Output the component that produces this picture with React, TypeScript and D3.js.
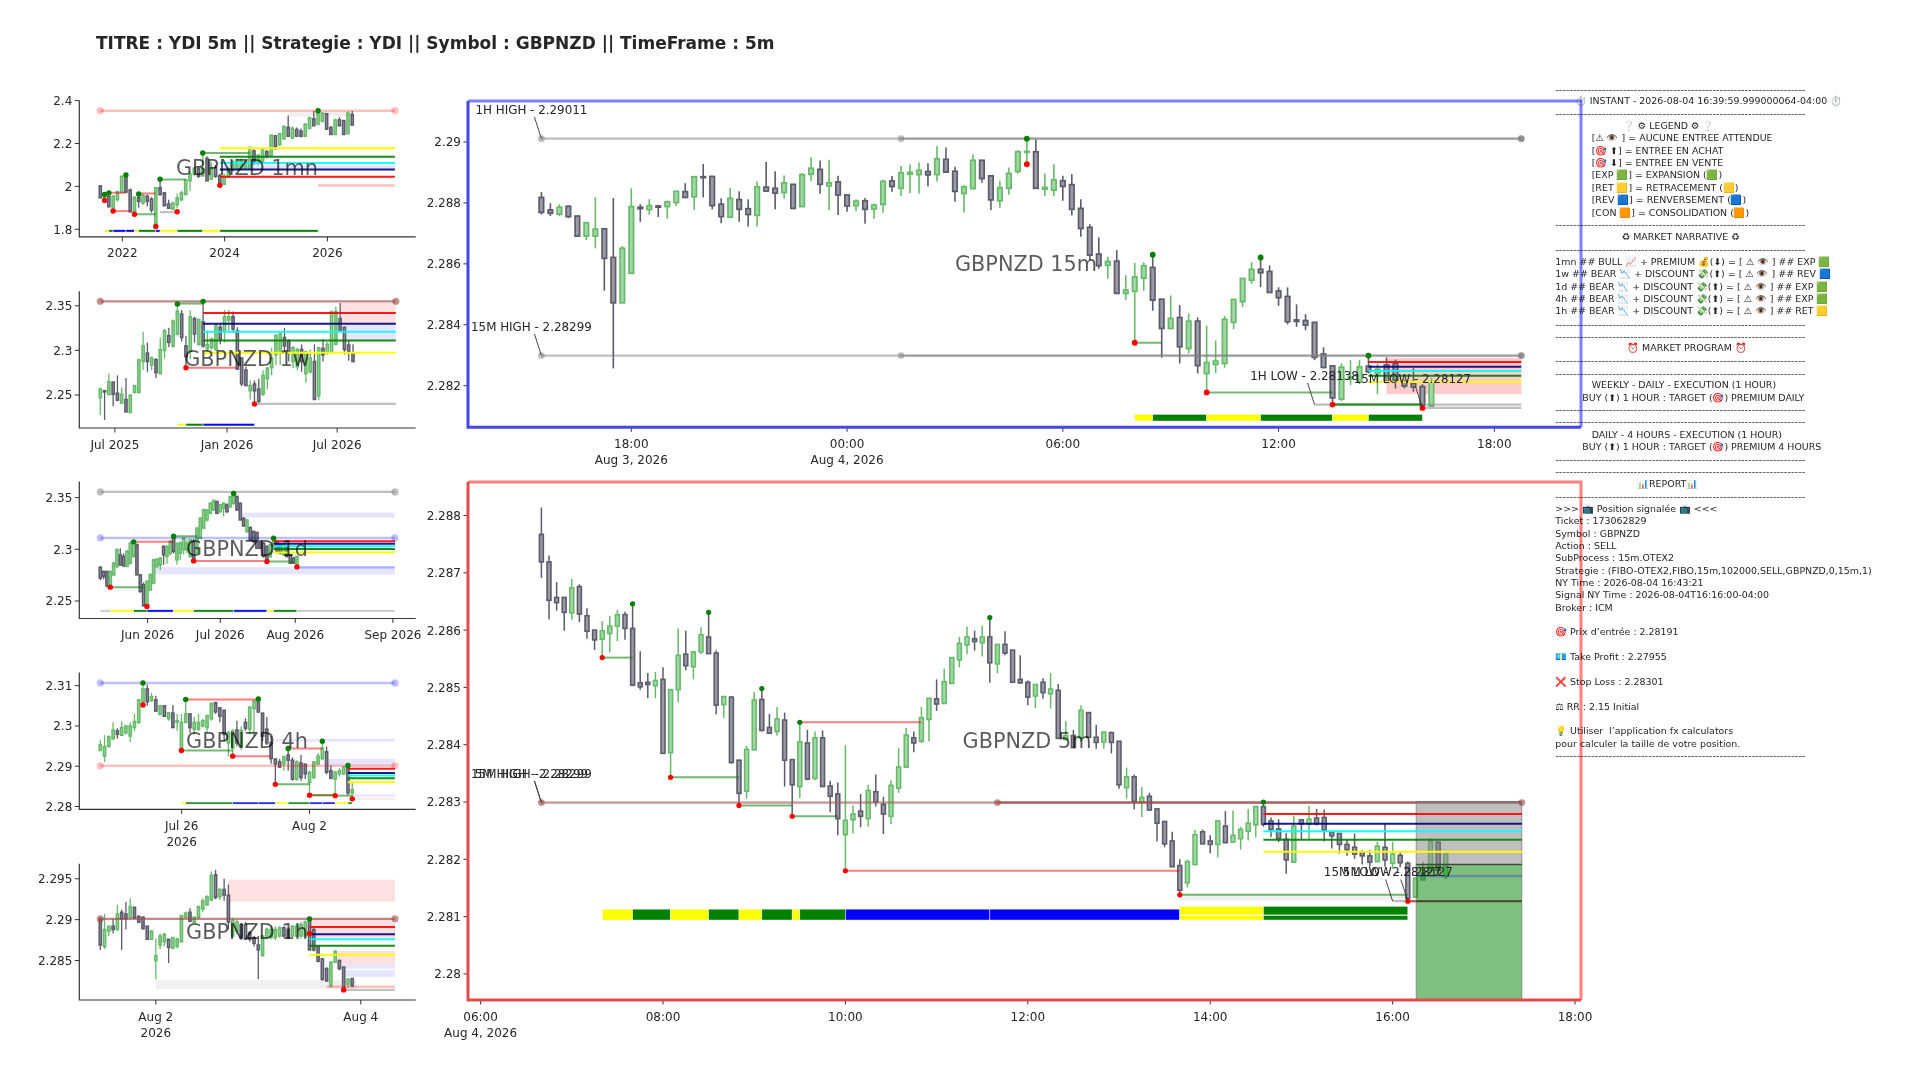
import React from "react";
import * as d3 from "d3";

type Row = number[];
const TITLE = "TITRE : YDI 5m || Strategie : YDI || Symbol : GBPNZD || TimeFrame : 5m";

// ---- candle values: [open, high, low, close]
const candles1mn: Row[] = [
[2.002,2.005,1.945,1.947],[1.947,1.97,1.94,1.962],[1.954,1.96,1.90,1.906],[1.90,1.96,1.888,1.954],[1.938,1.98,1.93,1.975],[1.973,2.05,1.97,2.047],[2.05,2.055,1.97,1.973],[1.983,1.99,1.878,1.882],[1.882,1.955,1.875,1.949],[1.949,1.965,1.90,1.93],
[1.922,1.965,1.915,1.957],[1.954,1.962,1.906,1.93],[1.941,1.95,1.877,1.89],[1.825,1.996,1.81,1.994],[1.994,2.034,1.957,1.962],[1.97,1.972,1.908,1.91],[1.918,1.938,1.896,1.898],[1.893,1.93,1.89,1.922],[1.914,1.967,1.898,1.946],[1.938,1.98,1.93,1.97],
[1.962,2.035,1.96,2.03],[2.026,2.07,1.978,2.058],[2.058,2.09,2.05,2.085],[2.082,2.09,2.04,2.047],[2.05,2.156,2.045,2.082],[2.13,2.14,2.024,2.026],[2.034,2.11,2.03,2.082],[2.087,2.10,2.04,2.047],[2.05,2.06,2.005,2.013],[2.01,2.06,2.008,2.047],
[2.042,2.09,2.04,2.082],[2.074,2.12,2.07,2.117],[2.082,2.13,2.08,2.117],[2.082,2.13,2.078,2.117],[2.085,2.12,2.08,2.117],[2.082,2.188,2.08,2.178],[2.165,2.175,2.10,2.114],[2.106,2.15,2.10,2.146],[2.114,2.18,2.11,2.175],[2.162,2.17,2.13,2.141],
[2.143,2.24,2.14,2.239],[2.236,2.24,2.17,2.186],[2.194,2.25,2.19,2.246],[2.222,2.285,2.22,2.279],[2.275,2.33,2.23,2.234],[2.226,2.28,2.22,2.271],[2.265,2.275,2.23,2.234],[2.258,2.27,2.228,2.234],[2.234,2.295,2.23,2.29],[2.271,2.325,2.265,2.32],
[2.315,2.352,2.28,2.283],[2.29,2.353,2.285,2.342],[2.303,2.345,2.30,2.342],[2.339,2.342,2.262,2.267],[2.275,2.28,2.24,2.242],[2.242,2.315,2.24,2.31],[2.31,2.323,2.28,2.283],[2.307,2.31,2.24,2.242],[2.246,2.35,2.243,2.342],[2.335,2.352,2.285,2.286],
];
const candles1w: Row[] = [
[2.247,2.2585,2.2277,2.2566],[2.2547,2.2558,2.2219,2.2535],[2.2505,2.274,2.2497,2.265],[2.2645,2.2645,2.2373,2.2508],[2.252,2.272,2.243,2.2443],[2.241,2.2586,2.2405,2.2508],[2.245,2.269,2.231,2.231],[2.2304,2.25,2.2296,2.25],[2.2528,2.261,2.252,2.2605],[2.2528,2.2895,2.2528,2.2895],
[2.2875,2.321,2.278,2.305],[2.297,2.3087,2.276,2.2875],[2.2836,2.2933,2.278,2.2914],[2.2895,2.2914,2.269,2.2752],[2.274,2.3145,2.273,2.301],[2.30,2.324,2.291,2.3222],[2.3165,2.3253,2.3037,2.309],[2.305,2.3346,2.303,2.333],[2.3184,2.352,2.3165,2.344],[2.3408,2.3454,2.31,2.3145],
[2.305,2.3165,2.2805,2.293],[2.299,2.3447,2.29,2.3377],[2.3357,2.3377,2.3087,2.3184],[2.3068,2.3357,2.305,2.3346],[2.332,2.355,2.303,2.305],[2.302,2.3222,2.299,2.3068],[2.303,2.3145,2.301,2.3126],[2.301,2.33,2.2999,2.328],[2.326,2.33,2.3068,2.3126],[2.322,2.3454,2.3087,2.3377],
[2.334,2.3454,2.322,2.3377],[2.3377,2.3435,2.32,2.324],[2.322,2.326,2.279,2.279],[2.2914,2.2914,2.26,2.2624],[2.278,2.282,2.26,2.2605],[2.2547,2.2663,2.245,2.2605],[2.2624,2.2663,2.24,2.2547],[2.2566,2.2682,2.241,2.243],[2.2508,2.2778,2.249,2.272],[2.2682,2.2817,2.2566,2.28],
[2.2806,2.303,2.272,2.2914],[2.295,2.3184,2.2836,2.3165],[2.297,2.32,2.2836,2.3184],[2.3145,2.3253,2.299,2.305],[2.3106,2.3126,2.2875,2.299],[2.2875,2.305,2.28,2.303],[2.2817,2.303,2.2778,2.301],[2.301,2.3068,2.276,2.2875],[2.274,2.2999,2.2636,2.2983],[2.276,2.301,2.274,2.2914],
[2.2875,2.3068,2.2443,2.245],[2.249,2.303,2.2443,2.303],[2.3022,2.3126,2.2875,2.295],[2.297,2.309,2.295,2.3068],[2.297,2.3435,2.297,2.3435],[2.3068,2.349,2.3068,2.3435],[2.3357,2.3532,2.3215,2.3222],[2.326,2.326,2.2952,2.301],[2.306,2.3106,2.2883,2.299],[2.297,2.3068,2.2867,2.2875],
];
const candles1d: Row[] = [
[2.2827,2.2834,2.27,2.2721],[2.2785,2.2795,2.271,2.2737],[2.2785,2.2795,2.263,2.2647],[2.264,2.2795,2.263,2.2785],[2.2753,2.288,2.274,2.2866],[2.2834,2.301,2.282,2.2995],[2.2946,2.3011,2.284,2.285],[2.293,2.296,2.283,2.284],[2.2834,2.2995,2.283,2.2979],[2.2866,2.3075,2.285,2.3059],
[2.293,2.3091,2.292,2.3075],[2.3043,2.3059,2.275,2.2753],[2.2753,2.276,2.258,2.2592],[2.2657,2.268,2.2447,2.2454],[2.2463,2.27,2.2447,2.2689],[2.2608,2.277,2.26,2.2753],[2.2673,2.291,2.266,2.2898],[2.2834,2.291,2.282,2.2904],[2.285,2.2925,2.28,2.2914],[2.3027,2.304,2.285,2.2946],
[2.293,2.304,2.286,2.3027],[2.2962,2.309,2.294,2.3075],[2.3115,2.3126,2.296,2.2979],[2.2898,2.306,2.285,2.3059],[2.2962,2.308,2.29,2.3059],[2.2995,2.311,2.295,2.3107],[2.2995,2.309,2.296,2.3059],[2.293,2.31,2.292,2.3091],[2.3075,2.31,2.2888,2.2914],[2.2962,2.3215,2.2955,2.3204],
[2.3107,2.331,2.31,2.33],[2.3204,2.3395,2.32,2.3381],[2.3284,2.339,2.327,2.3381],[2.3349,2.3455,2.334,2.3445],[2.3381,2.348,2.337,2.3473],[2.3462,2.347,2.334,2.3349],[2.3365,2.344,2.335,2.3429],[2.3397,2.3455,2.332,2.3445],[2.3429,2.3445,2.335,2.3365],[2.3413,2.3515,2.34,2.351],
[2.3445,2.3542,2.343,2.3535],[2.351,2.352,2.337,2.3381],[2.3445,2.345,2.328,2.3284],[2.33,2.331,2.322,2.3226],[2.3172,2.329,2.316,2.3284],[2.321,2.322,2.308,2.3091],[2.3172,2.318,2.306,2.3075],[2.3162,2.317,2.30,2.3011],[2.3075,2.309,2.30,2.3011],[2.3059,2.307,2.292,2.293],
[2.3027,2.304,2.2882,2.2895],[2.293,2.305,2.292,2.3043],[2.3027,2.3107,2.302,2.3091],[2.3075,2.309,2.296,2.2979],[2.3043,2.305,2.295,2.2962],[2.2946,2.305,2.294,2.3043],[2.3027,2.304,2.292,2.293],[2.2946,2.2955,2.286,2.2866],[2.2914,2.293,2.286,2.2866],[2.2834,2.294,2.283,2.293],
];
const candles4h: Row[] = [
[2.2939,2.2965,2.2939,2.2953],[2.2925,2.2977,2.291,2.2949],[2.2949,2.2977,2.2947,2.2973],[2.2968,2.3009,2.2966,2.299],[2.2988,2.2994,2.2968,2.2979],[2.2977,2.3011,2.2975,2.2996],[2.2983,2.3001,2.2979,2.30],[2.2975,2.3009,2.296,2.30],[2.2996,2.303,2.2988,2.3011],[2.3009,2.3067,2.3005,2.3065],
[2.306,2.3107,2.3052,2.3092],[2.3092,2.3103,2.305,2.306],[2.3063,2.3082,2.306,2.3073],[2.3065,2.3075,2.3035,2.3037],[2.3029,2.3052,2.3026,2.305],[2.305,2.3052,2.3022,2.3024],[2.3018,2.3033,2.3013,2.3033],[2.3032,2.3052,2.2996,2.2996],[2.3009,2.303,2.2988,2.3013],[2.2945,2.303,2.2939,2.3009],
[2.3009,2.3066,2.3007,2.303],[2.303,2.303,2.2983,2.2996],[2.2992,2.3022,2.2979,2.3009],[2.2992,2.303,2.2988,2.3009],[2.30,2.3018,2.2996,2.3013],[2.2996,2.3026,2.2983,2.3026],[2.3018,2.3058,2.3013,2.3056],[2.3058,2.306,2.303,2.3035],[2.3045,2.3047,2.3009,2.3024],[2.3039,2.3039,2.2962,2.2979],
[2.2958,2.2988,2.2925,2.2983],[2.2945,2.2992,2.2925,2.2988],[2.299,2.3013,2.2949,2.2958],[2.2949,2.2999,2.294,2.2989],[2.3009,2.3019,2.2988,2.2994],[2.2992,2.3048,2.2979,2.3047],[2.3043,2.3064,2.2975,2.3062],[2.3062,2.3067,2.3032,2.3035],[2.3032,2.3032,2.2962,2.2975],[2.2992,2.3022,2.2953,2.2958],
[2.2958,2.2975,2.2906,2.2919],[2.2918,2.2918,2.2855,2.2906],[2.2911,2.2918,2.2896,2.2898],[2.2906,2.2925,2.2889,2.2924],[2.2928,2.2944,2.2889,2.2915],[2.2915,2.2922,2.2864,2.2868],[2.2868,2.2915,2.2864,2.2911],[2.2908,2.2928,2.2864,2.2872],[2.2905,2.2906,2.2868,2.2881],[2.286,2.2889,2.2828,2.2885],
[2.2872,2.2911,2.2868,2.2911],[2.2906,2.2932,2.2902,2.2925],[2.2919,2.2962,2.2915,2.2945],[2.2936,2.2949,2.288,2.2885],[2.2889,2.2902,2.2868,2.287],[2.2868,2.2889,2.2828,2.2885],[2.2881,2.2896,2.2874,2.2889],[2.2881,2.29,2.2879,2.2898],[2.2902,2.2902,2.2828,2.2834],[2.2834,2.286,2.2819,2.2842],
];
const candles1h: Row[] = [
[2.2901,2.2903,2.2863,2.2869],[2.2867,2.2907,2.2864,2.2888],[2.2886,2.2893,2.288,2.2892],[2.2892,2.2901,2.2883,2.2888],[2.2888,2.2918,2.2886,2.2907],[2.2909,2.2912,2.2863,2.2901],[2.2907,2.2922,2.2888,2.2901],[2.2903,2.2926,2.2902,2.2916],[2.2915,2.2916,2.2901,2.2902],[2.2904,2.2905,2.2896,2.2897],
[2.2903,2.2904,2.2888,2.2889],[2.2892,2.2892,2.2876,2.2876],[2.2876,2.2887,2.2875,2.2886],[2.285,2.2877,2.2827,2.2856],[2.2869,2.2883,2.2864,2.288],[2.2873,2.2884,2.2867,2.2882],[2.2876,2.2876,2.2847,2.2866],[2.2865,2.2878,2.2864,2.2878],[2.2867,2.2878,2.2865,2.2876],[2.2873,2.2905,2.2872,2.2905],
[2.2903,2.291,2.2902,2.2908],[2.2909,2.2914,2.2897,2.2898],[2.2897,2.2904,2.2896,2.2903],[2.2903,2.2917,2.2901,2.2916],[2.2913,2.2926,2.2909,2.2923],[2.2918,2.293,2.2917,2.2928],[2.2924,2.2959,2.2923,2.2954],[2.2955,2.2961,2.2925,2.2927],[2.2928,2.2938,2.2924,2.2937],[2.2937,2.295,2.2923,2.293],
[2.293,2.2943,2.2888,2.2897],[2.288,2.2902,2.2878,2.2899],[2.2886,2.29,2.2882,2.2897],[2.2894,2.2895,2.2875,2.2878],[2.2894,2.2897,2.2875,2.2876],[2.2884,2.2886,2.2873,2.2876],[2.2878,2.288,2.2867,2.2871],[2.2869,2.288,2.2827,2.2863],[2.2856,2.288,2.2855,2.288],[2.2878,2.289,2.2876,2.2888],
[2.2878,2.2892,2.2876,2.2888],[2.2878,2.2892,2.2875,2.2888],[2.288,2.2892,2.2878,2.289],[2.289,2.2892,2.2878,2.288],[2.2888,2.289,2.2876,2.2878],[2.288,2.2893,2.2878,2.2892],[2.288,2.2895,2.2878,2.2892],[2.288,2.2897,2.2877,2.2894],[2.288,2.2899,2.2878,2.2897],[2.2901,2.2901,2.2862,2.2863],
[2.2888,2.289,2.2861,2.2863],[2.2867,2.2868,2.2848,2.2849],[2.2852,2.2853,2.2825,2.2827],[2.284,2.2842,2.2824,2.2825],[2.2819,2.2849,2.2817,2.2848],[2.2848,2.2863,2.2847,2.2861],[2.285,2.2851,2.2838,2.284],[2.2842,2.2842,2.2812,2.2814],[2.2821,2.2829,2.2817,2.2827],[2.2828,2.2828,2.2818,2.2819],
];
const candles15m: Row[] = [
[2.28818,2.28836,2.28762,2.28769],[2.28777,2.28799,2.28757,2.28766],[2.28763,2.28796,2.28757,2.28786],[2.28789,2.28791,2.2875,2.28755],[2.28757,2.28757,2.28689,2.28691],[2.28691,2.28735,2.28678,2.28735],[2.28691,2.28819,2.28651,2.28714],[2.28715,2.28715,2.28512,2.28618],[2.28621,2.28816,2.28257,2.28472],[2.28472,2.28658,2.28472,2.28651],
[2.28569,2.28848,2.28569,2.28788],[2.28786,2.28796,2.28738,2.28781],[2.28778,2.28812,2.28761,2.28791],[2.2879,2.28794,2.28754,2.28786],[2.28788,2.28807,2.28748,2.28804],[2.28801,2.28838,2.2879,2.28838],[2.28837,2.28865,2.28816,2.28818],[2.2882,2.28886,2.28777,2.28886],[2.28886,2.28928,2.28818,2.28883],[2.28887,2.28887,2.28779,2.28791],
[2.28796,2.28815,2.28733,2.28755],[2.28753,2.28849,2.28753,2.28815],[2.28811,2.28838,2.28738,2.28779],[2.28781,2.28812,2.28723,2.28762],[2.28759,2.2887,2.28723,2.28853],[2.28852,2.28934,2.28836,2.28839],[2.28848,2.28904,2.28779,2.28832],[2.28834,2.2889,2.28814,2.28866],[2.28861,2.28861,2.28779,2.28782],[2.28788,2.28898,2.28786,2.28893],
[2.28894,2.2895,2.28872,2.28914],[2.2891,2.28939,2.2883,2.28861],[2.28856,2.28942,2.28776,2.28866],[2.28869,2.28889,2.2876,2.28826],[2.28826,2.28826,2.28771,2.2879],[2.28791,2.28812,2.28773,2.28806],[2.28807,2.28816,2.28732,2.28779],[2.2878,2.28798,2.28748,2.28793],[2.28795,2.28876,2.28768,2.28871],[2.28872,2.28888,2.28837,2.28854],
[2.28848,2.28921,2.28823,2.28899],[2.28894,2.28926,2.28832,2.289],[2.28893,2.28933,2.28831,2.28907],[2.28903,2.2893,2.28855,2.28892],[2.28893,2.28987,2.2887,2.28945],[2.28943,2.28982,2.28899,2.28901],[2.28904,2.28919,2.28804,2.28838],[2.28831,2.28858,2.28768,2.28853],[2.28847,2.2896,2.28845,2.2894],[2.2894,2.2894,2.28866,2.2888],
[2.28889,2.28889,2.28777,2.2881],[2.28807,2.28872,2.28784,2.2885],[2.28848,2.28916,2.28827,2.28897],[2.28903,2.28974,2.28896,2.28968],[2.28966,2.29007,2.28927,2.28969],[2.28968,2.29009,2.28848,2.28848],[2.28845,2.28897,2.28823,2.28851],[2.28842,2.28927,2.28823,2.28876],[2.28873,2.28889,2.28807,2.28854],[2.2886,2.28894,2.28759,2.28779],
[2.28782,2.28812,2.28689,2.28716],[2.2872,2.2873,2.28612,2.28629],[2.28632,2.28687,2.28584,2.28594],[2.28595,2.28623,2.28551,2.28608],[2.28609,2.28645,2.28503,2.28503],[2.28503,2.28563,2.28481,2.28514],[2.2851,2.28603,2.28342,2.28557],[2.28553,2.28605,2.28512,2.28594],[2.28588,2.2863,2.28446,2.28481],[2.28484,2.28484,2.28292,2.28388],
[2.28388,2.28496,2.28388,2.28421],[2.28424,2.28465,2.28273,2.28328],[2.28322,2.28437,2.28306,2.28412],[2.28412,2.28424,2.2824,2.28266],[2.2824,2.28397,2.2818,2.28276],[2.2827,2.28348,2.28242,2.28281],[2.28273,2.28429,2.28259,2.28418],[2.28408,2.28483,2.28386,2.28483],[2.28476,2.28552,2.28458,2.28552],[2.28546,2.28606,2.28534,2.28582],
[2.28582,2.28621,2.28524,2.28571],[2.28575,2.28595,2.28506,2.28506],[2.28511,2.28523,2.28462,2.28489],[2.28493,2.28523,2.28401,2.2841],[2.28416,2.28467,2.28393,2.28411],[2.28414,2.28435,2.28382,2.28399],[2.28408,2.28408,2.28284,2.28293],[2.28304,2.28326,2.28257,2.2826],[2.28265,2.28265,2.28138,2.2816],[2.28156,2.28273,2.2815,2.28261],
[2.28222,2.28284,2.28202,2.28228],[2.28213,2.28285,2.28205,2.28262],[2.28264,2.28298,2.2824,2.28246],[2.2824,2.28273,2.28172,2.28254],[2.28268,2.28293,2.28208,2.28213],[2.28273,2.28286,2.28191,2.28218],[2.28213,2.2822,2.28191,2.28199],[2.28207,2.28257,2.2818,2.28196],[2.28197,2.28205,2.28127,2.28136],[2.28133,2.28226,2.2813,2.28212],
];
const candles5m: Row[] = [
[2.28767,2.28814,2.28691,2.28719],[2.28719,2.2873,2.28619,2.28652],[2.28657,2.28684,2.28634,2.28648],[2.28657,2.28657,2.28599,2.28631],[2.2863,2.28689,2.28618,2.28674],[2.28676,2.2868,2.28614,2.28628],[2.28625,2.28638,2.28585,2.28598],[2.286,2.286,2.28565,2.28583],[2.28584,2.28616,2.28552,2.28599],[2.28594,2.28625,2.28561,2.28607],
[2.28607,2.28635,2.28581,2.28627],[2.28627,2.28632,2.28583,2.28603],[2.28603,2.28646,2.28502,2.28504],[2.28508,2.28563,2.28496,2.28501],[2.28509,2.28525,2.28481,2.28505],[2.28503,2.28527,2.28481,2.28512],[2.28514,2.28535,2.28385,2.28385],[2.28386,2.28496,2.28343,2.28496],[2.28496,2.28603,2.28474,2.28556],[2.28558,2.28599,2.2853,2.28538],
[2.28536,2.28562,2.28514,2.28562],[2.28562,2.28605,2.28558,2.28592],[2.28588,2.28631,2.28559,2.28559],[2.2856,2.28565,2.28453,2.28469],[2.2847,2.28484,2.28447,2.28484],[2.28483,2.28485,2.28367,2.28369],[2.28373,2.28373,2.28294,2.28315],[2.28319,2.28398,2.28306,2.28392],[2.28391,2.28492,2.28391,2.28478],[2.28479,2.28498,2.28423,2.28425],
[2.2843,2.28454,2.2842,2.2842],[2.28423,2.28466,2.28416,2.28445],[2.28443,2.28456,2.28327,2.28373],[2.28374,2.28374,2.28275,2.2833],[2.28327,2.28439,2.28307,2.28405],[2.28403,2.28426,2.28338,2.2834],[2.28341,2.28423,2.28338,2.28412],[2.28412,2.28425,2.28326,2.28327],[2.28328,2.28337,2.28282,2.2831],[2.28314,2.28334,2.28242,2.28271],
[2.28243,2.28399,2.2818,2.28268],[2.28269,2.28294,2.28245,2.28279],[2.28284,2.28314,2.28256,2.28275],[2.28271,2.2833,2.28257,2.2832],[2.28318,2.28348,2.28292,2.283],[2.28296,2.28309,2.28244,2.28279],[2.28275,2.28338,2.28261,2.28329],[2.28324,2.28394,2.28316,2.28361],[2.28361,2.28429,2.28359,2.28417],[2.28412,2.28423,2.28387,2.28403],
[2.28406,2.28466,2.28403,2.28447],[2.28444,2.28481,2.28406,2.28481],[2.2848,2.28514,2.28459,2.28471],[2.28472,2.28533,2.28472,2.2851],[2.28507,2.28552,2.28507,2.28552],[2.28548,2.28588,2.28535,2.28577],[2.28574,2.28606,2.28558,2.28588],[2.28585,2.28599,2.28564,2.2858],[2.28578,2.28608,2.28554,2.28588],[2.28588,2.28622,2.28508,2.28543],
[2.28541,2.28575,2.28525,2.28575],[2.28575,2.28598,2.28556,2.2856],[2.28565,2.28565,2.28509,2.28509],[2.28514,2.28556,2.28506,2.28508],[2.28509,2.28512,2.28469,2.28483],[2.28485,2.28506,2.28464,2.28505],[2.28509,2.28516,2.2848,2.28491],[2.28489,2.28525,2.28463,2.28497],[2.28495,2.28506,2.28411,2.28411],[2.28409,2.28441,2.28409,2.28416],
[2.28416,2.28426,2.28395,2.28395],[2.28412,2.28469,2.28405,2.2846],[2.28456,2.28457,2.28413,2.28413],[2.28413,2.28435,2.28393,2.28404],[2.28405,2.28422,2.28393,2.28422],[2.28421,2.28423,2.28385,2.28404],[2.28406,2.28406,2.28323,2.2833],[2.28325,2.2836,2.28306,2.28344],[2.28344,2.28348,2.28287,2.28301],[2.283,2.28326,2.28274,2.28308],
[2.2831,2.28316,2.28286,2.28286],[2.28288,2.28288,2.28231,2.28263],[2.28266,2.28266,2.28221,2.28227],[2.28232,2.28248,2.28187,2.28187],[2.28189,2.282,2.28138,2.28146],[2.28159,2.28199,2.28151,2.28196],[2.28191,2.28251,2.28189,2.28243],[2.28248,2.28252,2.28227,2.28227],[2.28232,2.28242,2.2821,2.28226],[2.28226,2.28267,2.28203,2.28267],
[2.28258,2.28284,2.28229,2.28229],[2.2823,2.28285,2.2823,2.28242],[2.28236,2.28257,2.28217,2.28252],[2.28249,2.28288,2.28233,2.28263],[2.2826,2.28292,2.28238,2.28292],[2.28292,2.283,2.28257,2.28261],[2.28267,2.28273,2.28239,2.28252],[2.28253,2.2827,2.2823,2.28236],[2.28235,2.28246,2.28175,2.28199],[2.28195,2.28276,2.28195,2.28258],
[2.28269,2.2827,2.28235,2.28262],[2.28261,2.28293,2.28235,2.2827],[2.28272,2.28288,2.28259,2.28262],[2.28273,2.28287,2.28231,2.28251],[2.28247,2.28247,2.28219,2.28241],[2.28245,2.28245,2.2821,2.28226],[2.28226,2.28234,2.28206,2.28217],[2.28221,2.28245,2.28201,2.28209],[2.28212,2.28216,2.28191,2.28206],[2.28206,2.28216,2.28187,2.28195],
[2.28196,2.28231,2.28196,2.28223],[2.28221,2.28263,2.28187,2.28199],[2.28193,2.28231,2.28184,2.28209],[2.28207,2.28212,2.28186,2.28194],[2.28193,2.28196,2.2813,2.28132],[2.28134,2.28167,2.28134,2.28167],[2.28164,2.28196,2.28164,2.28176],[2.28181,2.28237,2.28175,2.28231],[2.2823,2.2823,2.28175,2.28181],[2.2817,2.28209,2.28165,2.28209],
];

// ---- levels: [fromBar, toBar, price, kind]
type Lv = [number, number, number, string];
const levels1mn: Lv[] = [[0,69,2.353,"tPink"],[28,69,2.178,"yellow"],[51,69,2.178,"yellow"],[28,69,2.138,"green"],[28,69,2.109,"cyan"],[28,69,2.079,"navy"],[28,69,2.045,"red"],[51,69,2.004,"tPink"],[2,6,1.97,"pRed"],[3,7,1.885,"pRed"],[9,13,1.967,"pRed"],[8,13,1.87,"pGreen"],[14,20,2.032,"pGreen"],[24,35,2.156,"pGreen"],[14,18,1.88,"tGrey"]];
const levels1w: Lv[] = [[0,69,2.355,"dRose"],[24,69,2.342,"red"],[24,69,2.33,"navy"],[24,69,2.321,"cyan"],[24,69,2.311,"green"],[24,69,2.2975,"yellow"],[36,69,2.24,"tGrey"],[18,24,2.3525,"pGreen"],[20,32,2.2805,"pRed"]];
const levels1d: Lv[] = [[0,88.4,2.3555,"tGrey"],[0,88.4,2.311,"tBlue"],[52,88.4,2.3078,"red"],[52,88.4,2.3053,"navy"],[52,88.4,2.303,"cyan"],[52,88.4,2.3004,"green"],[52,88.4,2.2969,"yellow"],[59,88.4,2.2827,"tBlue"],[3,13,2.2634,"pGreen"],[10,22,2.3072,"pRed"],[22,29,2.3126,"pGreen"],[28,50,2.2888,"pRed"],[50,58,2.2882,"pGreen"]];
const levels4h: Lv[] = [[0,69,2.3107,"tBlue"],[0,69,2.2901,"tPink"],[58,69,2.2894,"red"],[58,69,2.2883,"navy"],[58,69,2.2877,"cyan"],[58,69,2.287,"green"],[58,69,2.286,"yellow"],[20,37,2.3066,"pRed"],[19,31,2.2939,"pGreen"],[31,40,2.2925,"pRed"],[41,49,2.2855,"pGreen"],[44,52,2.2944,"pRed"],[49,55,2.2828,"pRed"],[49,55,2.2828,"pGreen"],[55,59,2.2827,"pGreen"]];
const levels1h: Lv[] = [[0,69,2.2901,"dRose"],[49,69,2.2891,"red"],[49,69,2.2882,"navy"],[49,69,2.2876,"cyan"],[49,69,2.2868,"green"],[49,69,2.2857,"yellow"],[53,69,2.2818,"tPink"],[57,69,2.2814,"tGrey"]];
const levels15m: Lv[] = [[0,109,2.29011,"tGrey"],[40,109,2.29011,"tGrey"],[0,109,2.28299,"tGrey"],[40,109,2.28299,"tGrey"],[86,109,2.28138,"tGrey"],[98,109,2.28127,"tGrey"],[92,109,2.28278,"red"],[92,109,2.28262,"navy"],[92,109,2.28248,"cyan"],[92,109,2.28233,"green"],[92,109,2.28212,"yellow"],[66,69,2.28341,"pGreen"],[74,88,2.28178,"pGreen"],[88,98,2.28138,"pGreen"],[88,98,2.28138,"pGreen"]];
const levels5m: Lv[] = [[0,129,2.28299,"tPink"],[0,129,2.28299,"tGrey"],[60,129,2.28299,"dRose"],[8,12,2.28552,"pGreen"],[17,26,2.28343,"pGreen"],[26,33,2.28294,"pGreen"],[33,39,2.28275,"pGreen"],[40,84,2.2818,"pRed"],[34,50,2.28439,"pRed"],[84,114,2.28138,"pGreen"],[112,129,2.28127,"tGrey"],[114,129,2.28127,"tGrey"],[114,129,2.28127,"pRed"]];
const overlay5m: Lv[] = [[95,129,2.28279,"red"],[95,129,2.28262,"navy"],[95,129,2.28249,"cyan"],[95,129,2.28234,"green"],[95,129,2.28213,"yellow"],[115.1,129,2.28191,"entry"],[115.1,129,2.28171,"tBlue"],[115.1,129,2.28127,"entry"]];

// ---- zones: [fromBar, toBar, priceA, priceB, kind]
type Zn = [number, number, number, number, string];
const zones1mn: Zn[] = [[29,69,2.10,2.079,"zBlue"],[44,59,2.347,2.326,"zGrey"]];
const zones1w: Zn[] = [[56,69,2.3532,2.3307,"zPink"],[57,69,2.3307,2.311,"zBlue"]];
const zones1d: Zn[] = [[42,88.4,2.3355,2.3307,"zBlue"],[16.4,88.4,2.2827,2.2757,"zBlue"]];
const zones4h: Zn[] = [[41,69,2.2968,2.2961,"zBlue"],[53,69,2.2918,2.2902,"zBlue"],[59,69,2.283,2.2824,"zBlue"],[59,69,2.2821,2.2817,"zPink"]];
const zones1h: Zn[] = [[30,69,2.2949,2.2922,"zPink"],[49,69,2.2901,2.2876,"zPink"],[55.5,69,2.2862,2.2845,"zPink"],[55.5,69,2.2845,2.284,"zBlue"],[57.5,69,2.2838,2.283,"zBlue"],[13,60,2.2826,2.2815,"zGrey"]];
const zones15m: Zn[] = [[94,109,2.28292,2.28172,"zPink2"]];
const zones5m: Zn[] = [[84,114,2.28139,2.28128,"zGrey"]];
const position5m: Zn[] = [[115.1,129,2.28301,2.28191,"zStop"],[115.1,129,2.28191,2.27955,"zTake"]];

// ---- swing points: [bar, price]
const highs1mn = [[1,1.962],[2,1.97],[6,2.053],[9,1.965],[14,2.033],[24,2.156],[51,2.353]];
const lows1mn = [[1,1.934],[3,1.885],[8,1.87],[13,1.813],[18,1.882],[28,2.005]];
const highs1w = [[18,2.352],[24,2.355]];
const lows1w = [[20,2.2805],[36,2.24]];
const highs1d = [[10,2.3072],[22,2.3126],[40,2.3539],[52,2.3107]];
const lows1d = [[3,2.2634],[14,2.2447],[28,2.2888],[50,2.2882],[59,2.283]];
const highs4h = [[10,2.3107],[20,2.3066],[37,2.3067],[44,2.2944],[52,2.2962],[58,2.2902]];
const lows4h = [[10,2.3052],[19,2.2939],[31,2.2925],[41,2.2855],[49,2.2828],[55,2.2827],[59,2.2819]];
const highs1h = [[49,2.2901]];
const lows1h = [[49,2.2883],[57,2.2814]];
const highs15m = [[54,2.29011],[68,2.2863],[80,2.28621],[92,2.28299]];
const lows15m = [[54,2.28927],[66,2.28341],[74,2.28178],[88,2.28138],[98,2.28127]];
const highs5m = [[12,2.28646],[22,2.28631],[29,2.28498],[34,2.28439],[59,2.28622],[95,2.283]];
const lows5m = [[8,2.28552],[17,2.28343],[26,2.28294],[33,2.28275],[40,2.2818],[84,2.28138],[114,2.28127]];

// ---- end markers: [bar, price, kind]
type Mk = [number, number, string];
const ends1mn: Mk[] = [[0,2.353,"tPink"],[69,2.353,"tPink"]];
const ends1w: Mk[] = [[0,2.355,"dRose"],[69,2.355,"dRose"]];
const ends1d: Mk[] = [[0,2.3555,"tGrey"],[88.4,2.3555,"tGrey"],[0,2.311,"tBlue"],[88.4,2.311,"tBlue"]];
const ends4h: Mk[] = [[0,2.3107,"tBlue"],[69,2.3107,"tBlue"],[0,2.2901,"tPink"],[69,2.2901,"tPink"]];
const ends1h: Mk[] = [[0,2.2901,"dRose"],[69,2.2901,"dRose"]];
const ends15m: Mk[] = [[0,2.29011,"tGrey"],[40,2.29011,"tGrey"],[109,2.29011,"dGrey"],[0,2.28299,"tGrey"],[40,2.28299,"tGrey"],[109,2.28299,"dGrey"]];
const ends5m: Mk[] = [[0,2.28299,"dRose"],[60,2.28299,"dRose"],[129,2.28299,"dRose"]];

// ---- phase strip: [fromBar, toBar, kind]
type Seg = [number, number, string];
const strip1mn: Seg[] = [[1,2,"Y"],[2,3,"G"],[3,6,"B"],[6,8,"B"],[8,9,"Y"],[9,13,"G"],[13,14,"B"],[14,18,"Y"],[18,24,"G"],[24,28,"Y"],[28,51,"G"]];
const strip1w: Seg[] = [[18,20,"Y"],[20,24,"G"],[24,36,"B"]];
const strip1d: Seg[] = [[0,3,"S"],[3,10,"Y"],[10,14,"G"],[14,22,"B"],[22,28,"Y"],[28,40,"G"],[40,50,"B"],[50,52,"Y"],[52,59,"G"],[59,88.4,"S"]];
const strip4h: Seg[] = [[19,20,"Y"],[20,31,"G"],[31,37,"B"],[37,41,"B"],[41,44,"Y"],[44,49,"G"],[49,52,"B"],[52,55,"B"],[55,58,"Y"],[58,59,"G"]];
const strip15m: Seg[] = [[66,68,"Y"],[68,74,"G"],[74,80,"Y"],[80,88,"G"],[88,92,"Y"],[92,98,"G"]];
const strip5m: Seg[] = [[8,12,"Y"],[12,17,"G"],[17,22,"Y"],[22,26,"G"],[26,29,"Y"],[29,33,"G"],[33,34,"Y"],[34,40,"G"],[40,59,"B"],[59,84,"B"]];
const strip5mUpper: Seg[] = [[84,95,"Y"],[95,114,"G"]];
const strip5mLower: Seg[] = [[84,95,"Y"],[95,114,"G"]];

// ---- ticks
type XT = [number, string, string?];
const yt1mn = [1.8,2,2.2,2.4]; const xt1mn: XT[] = [[5.16,"2022"],[29.1,"2024"],[53.2,"2026"]];
const yt1w = [2.25,2.3,2.35]; const xt1w: XT[] = [[3.4,"Jul 2025"],[29.6,"Jan 2026"],[55.3,"Jul 2026"]];
const yt1d = [2.25,2.3,2.35]; const xt1d: XT[] = [[14.2,"Jun 2026"],[36,"Jul 2026"],[58.5,"Aug 2026"],[87.8,"Sep 2026"]];
const yt4h = [2.28,2.29,2.3,2.31]; const xt4h: XT[] = [[19.06,"Jul 26","2026"],[49,"Aug 2"]];
const yt1h = [2.285,2.29,2.295]; const xt1h: XT[] = [[13,"Aug 2","2026"],[61,"Aug 4"]];
const yt15m = [2.282,2.284,2.286,2.288,2.29]; const xt15m: XT[] = [[10,"18:00","Aug 3, 2026"],[34,"00:00","Aug 4, 2026"],[58,"06:00"],[82,"12:00"],[106,"18:00"]];
const yt5m = [2.28,2.281,2.282,2.283,2.284,2.285,2.286,2.287,2.288]; const xt5m: XT[] = [[-8,"06:00","Aug 4, 2026"],[16,"08:00"],[40,"10:00"],[64,"12:00"],[88,"14:00"],[112,"16:00"],[136,"18:00"]];

// ---- annotations: [bar, price, text]
type An = [number, number, string];
const notes15m: An[] = [[0,2.29011,"1H HIGH - 2.29011"],[0,2.28299,"15M HIGH - 2.28299"],[86,2.28138,"1H LOW - 2.28138"],[98,2.28127,"15M LOW - 2.28127"]];
const notes5m: An[] = [[0,2.28299,"15M HIGH - 2.28299"],[0,2.28299,"5M HIGH - 2.28299"],[112,2.28127,"15M LOW - 2.28127"],[114,2.28127,"5M LOW - 2.28127"]];

// ---- report text: [text, left, centre-y]
const DASH = "-";
const report: [string, number, number][] = [
[DASH,1555.3,89.3],["⏱ INSTANT - 2026-08-04 16:39:59.999000064-04:00 ⏱",1575,100.7],[DASH,1555.3,114],
["❔ ⚙ LEGEND ⚙ ❔",1623,125.7],["[⚠ 👁 ] = AUCUNE ENTREE ATTENDUE",1591.7,137.7],["[🎯 ⬆] = ENTREE EN ACHAT",1591.7,150.7],["[🎯 ⬇] = ENTREE EN VENTE",1591.7,162.7],["[EXP 🟩] = EXPANSION (🟩)",1591.7,174.7],["[RET 🟨] = RETRACEMENT (🟨)",1591.7,187.7],["[REV 🟦] = RENVERSEMENT (🟦)",1591.7,199.7],["[CON 🟧] = CONSOLIDATION (🟧)",1591.7,212.7],
[DASH,1555.3,225],["♻ MARKET NARRATIVE ♻",1621.7,236.7],[DASH,1555.3,250],
["1mn ## BULL 📈 + PREMIUM 💰(⬇) = [ ⚠ 👁 ] ## EXP 🟩",1555.3,261.7],["1w ## BEAR 📉 + DISCOUNT 💸(⬆) = [ ⚠ 👁 ] ## REV 🟦",1555.3,273.7],["1d ## BEAR 📉 + DISCOUNT 💸(⬆) = [ ⚠ 👁 ] ## EXP 🟩",1555.3,286.7],["4h ## BEAR 📉 + DISCOUNT 💸(⬆) = [ ⚠ 👁 ] ## EXP 🟩",1555.3,298.7],["1h ## BEAR 📉 + DISCOUNT 💸(⬆) = [ ⚠ 👁 ] ## RET 🟨",1555.3,310.7],
[DASH,1555.3,324.3],[DASH,1555.3,336.3],["⏰ MARKET PROGRAM ⏰",1627.3,347.7],[DASH,1555.3,361],[DASH,1555.3,373.3],
["WEEKLY - DAILY - EXECUTION (1 HOUR)",1591.7,384.7],["BUY (⬆) 1 HOUR : TARGET (🎯) PREMIUM DAILY",1582.3,397.7],[DASH,1555.3,410],[DASH,1555.3,422],
["DAILY - 4 HOURS - EXECUTION (1 HOUR)",1591.7,434.3],["BUY (⬆) 1 HOUR : TARGET (🎯) PREMIUM 4 HOURS",1582.3,446.7],[DASH,1555.3,460],[DASH,1555.3,472],
["📊REPORT📊",1637.3,483.7],[DASH,1555.3,497],[">>> 📺 Position signalée 📺 <<<",1555.3,509],
["Ticket : 173062829",1555.3,520.7],["Symbol : GBPNZD",1555.3,533.7],["Action : SELL",1555.3,545.7],["SubProcess : 15m.OTEX2",1555.3,557.7],["Strategie : (FIBO-OTEX2,FIBO,15m,102000,SELL,GBPNZD,0,15m,1)",1555.3,570.7],["NY Time : 2026-08-04 16:43:21",1555.3,582.7],["Signal NY Time : 2026-08-04T16:16:00-04:00",1555.3,594.7],["Broker : ICM",1555.3,607.7],
["🎯 Prix d’entrée : 2.28191",1555.3,631.7],["💶 Take Profit : 2.27955",1555.3,656.7],["❌ Stop Loss : 2.28301",1555.3,681.7],["⚖ RR : 2.15 Initial",1555.3,706.7],["💡 Utiliser  l’application fx calculators",1555.3,730.7],["pour calculer la taille de votre position.",1555.3,743.7],[DASH,1555.3,756],
];

// ---- styling
const FONT = "'DejaVu Sans', 'Noto Color Emoji', sans-serif";
const INK = "#262626";
const lineStyle: Record<string, { c: string; o: number; w: number }> = {
  red: { c: "#ff0000", o: 0.9, w: 2 }, navy: { c: "#000080", o: 0.9, w: 2 }, cyan: { c: "#00ffff", o: 0.9, w: 2 }, green: { c: "#008000", o: 0.9, w: 2 }, yellow: { c: "#ffff00", o: 1, w: 2 },
  pRed: { c: "#ff0000", o: 0.5, w: 2 }, pGreen: { c: "#008000", o: 0.55, w: 2 },
  tPink: { c: "#ff0000", o: 0.25, w: 2.5 }, tBlue: { c: "#0000ff", o: 0.25, w: 2.5 }, tGrey: { c: "#808080", o: 0.5, w: 2.2 },
  dRose: { c: "#a04848", o: 0.65, w: 2.4 }, entry: { c: "#333333", o: 0.7, w: 1.4 },
};
const zoneStyle: Record<string, { c: string; o: number }> = {
  zPink: { c: "#ff0000", o: 0.12 }, zPink2: { c: "#ff0000", o: 0.2 }, zBlue: { c: "#0000ff", o: 0.1 }, zGrey: { c: "#808080", o: 0.12 },
  zStop: { c: "#808080", o: 0.5 }, zTake: { c: "#008000", o: 0.5 },
};
const markerStyle: Record<string, { c: string; o: number }> = {
  tPink: { c: "#ff0000", o: 0.25 }, tBlue: { c: "#0000ff", o: 0.25 }, tGrey: { c: "#808080", o: 0.5 }, dGrey: { c: "#808080", o: 0.85 }, dRose: { c: "#a04848", o: 0.6 },
};
const stripColor: Record<string, string> = { Y: "#ffff00", G: "#008000", B: "#0000ff", S: "#c8c8c8" };

type PanelProps = {
  rows: Row[]; x0: number; dx: number; xRight: number; yPair: [number, number, number, number];
  top: number; bottom: number; left: number; right: number;
  levels: Lv[]; zones: Zn[]; highs: number[][]; lows: number[][]; ends: Mk[]; strip?: Seg[]; stripBand?: [number, number];
  yTicks: number[]; xTicks: XT[]; label: string; labelX: number; labelY: number;
  bodyW: number; bodyS: number; wickW: number; dotR: number; endR: number; yFmt: (v: number) => string;
  notes?: An[]; main?: boolean; children?: (x: (v: number) => number, y: (v: number) => number) => React.ReactNode;
};

function Panel(p: PanelProps) {
  const x = d3.scaleLinear().domain([0, 1]).range([p.x0, p.x0 + p.dx]);
  const y = d3.scaleLinear().domain([p.yPair[0], p.yPair[1]]).range([p.yPair[2], p.yPair[3]]);
  return (
    <g fontFamily={FONT}>
      {p.zones.map((z, i) => (
        <rect key={"z" + i} x={x(z[0])} width={x(z[1]) - x(z[0])} y={y(z[2])} height={y(z[3]) - y(z[2])} fill={zoneStyle[z[4]].c} fillOpacity={zoneStyle[z[4]].o} />
      ))}
      {p.rows.map((r, i) => {
        const up = r[3] >= r[0];
        const col = up ? "#66bb6a" : "#5a5c6a";
        const inner = up ? "#a5d6a7" : "#9a9ba6";
        const t = y(Math.max(r[0], r[3]));
        const b = y(Math.min(r[0], r[3]));
        return (
          <g key={i}>
            <line x1={x(i)} x2={x(i)} y1={y(r[1])} y2={y(r[2])} stroke={col} strokeWidth={p.wickW} />
            <rect x={x(i) - p.bodyW / 2} width={p.bodyW} y={t} height={Math.max(b - t, 0.5)} fill={inner} stroke={col} strokeWidth={p.bodyS} />
          </g>
        );
      })}
      {p.levels.map((l, i) => {
        const s = lineStyle[l[3]];
        return <line key={"l" + i} x1={x(l[0])} x2={x(l[1])} y1={y(l[2])} y2={y(l[2])} stroke={s.c} strokeOpacity={s.o} strokeWidth={s.w} />;
      })}
      {p.strip && p.stripBand && p.strip.map((s, i) => (
        <rect key={"s" + i} x={x(s[0])} width={x(s[1]) - x(s[0])} y={y(p.stripBand![0])} height={y(p.stripBand![1]) - y(p.stripBand![0])} fill={stripColor[s[2]]} stroke="#ffffff" strokeOpacity={0.8} strokeWidth={0.6} />
      ))}
      {p.children && p.children(x, y)}
      {p.ends.map((m, i) => (
        <circle key={"e" + i} cx={x(m[0])} cy={y(m[1])} r={p.endR} fill={markerStyle[m[2]].c} fillOpacity={markerStyle[m[2]].o} />
      ))}
      {p.highs.map((h, i) => <circle key={"h" + i} cx={x(h[0])} cy={y(h[1])} r={p.dotR} fill="#008000" />)}
      {p.lows.map((h, i) => <circle key={"w" + i} cx={x(h[0])} cy={y(h[1])} r={p.dotR} fill="#ff0000" />)}
      {!p.main && <path d={`M${p.left},${p.top}V${p.bottom}H${p.right}`} fill="none" stroke="#333" strokeWidth={1.2} />}
      {p.yTicks.map((v) => (
        <g key={v}>
          <line x1={p.left - 4.5} x2={p.left} y1={y(v)} y2={y(v)} stroke="#333" strokeWidth={1} />
          <text x={p.left - 7} y={y(v) + 4.4} textAnchor="end" fontSize={12} fill={INK}>{p.yFmt(v)}</text>
        </g>
      ))}
      {p.xTicks.map((t, i) => (
        <g key={i}>
          <line x1={x(t[0])} x2={x(t[0])} y1={p.bottom} y2={p.bottom + 4.5} stroke="#333" strokeWidth={1} />
          <text x={x(t[0])} y={p.bottom + 20.5} textAnchor="middle" fontSize={12} fill={INK}>{t[1]}</text>
          {t[2] && <text x={x(t[0])} y={p.bottom + 36.5} textAnchor="middle" fontSize={12} fill={INK}>{t[2]}</text>}
        </g>
      ))}
      <text x={p.labelX} y={p.labelY + 7} textAnchor="middle" fontSize={20.8} fill="#000" fillOpacity={0.65}>{p.label}</text>
      {p.notes && p.notes.map((n, i) => (
        <g key={"n" + i}>
          <line x1={x(n[0]) - 7} y1={y(n[1]) - 21.7} x2={x(n[0])} y2={y(n[1])} stroke="#333" strokeWidth={0.9} />
          <text x={x(n[0]) - 10} y={y(n[1]) - 25} textAnchor="middle" fontSize={11.9} fill={INK}>{n[2]}</text>
        </g>
      ))}
    </g>
  );
}

const smallBase = { x0: 100.3, dx: 4.27, xRight: 395, left: 79.3, right: 415.7, bodyW: 2.2, bodyS: 1.5, wickW: 1.3, dotR: 2.7, endR: 3.6, labelX: 247 };
const fmtShort = (v: number) => d3.format("~g")(v);
const frames: [number, number, number, number, string, string][] = [
  [468, 101, 1581, 427.3, "#8080ff", "#4646e6"],
  [468, 482, 1581, 1000, "#ff8080", "#e44a4a"],
];

export default function App() {
  return (
    <svg width={1920} height={1080} viewBox="0 0 1920 1080" style={{ position: "absolute", left: 0, top: 0, background: "#fff", display: "block" }}>
      <text x={96} y={49} fontFamily={FONT} fontWeight="bold" fontSize={17} fill={INK}>{TITLE}</text>

      <Panel {...smallBase} rows={candles1mn} yPair={[2.4, 1.8, 100.6, 229.3]} top={100.6} bottom={236.9} levels={levels1mn} zones={zones1mn} highs={highs1mn} lows={lows1mn} ends={ends1mn} strip={strip1mn} stripBand={[1.798, 1.787]} yTicks={yt1mn} xTicks={xt1mn} label="GBPNZD 1mn" labelY={168} yFmt={fmtShort} />
      <Panel {...smallBase} dx={4.283} rows={candles1w} yPair={[2.35, 2.25, 305.8, 395]} top={291.3} bottom={428} levels={levels1w} zones={zones1w} highs={highs1w} lows={lows1w} ends={ends1w} strip={strip1w} stripBand={[2.2181, 2.2153]} yTicks={yt1w} xTicks={xt1w} label="GBPNZD 1w" labelY={358.8} yFmt={fmtShort} />
      <Panel {...smallBase} dx={3.333} rows={candles1d} yPair={[2.35, 2.25, 497.6, 601]} top={481.4} bottom={618.5} levels={levels1d} zones={zones1d} highs={highs1d} lows={lows1d} ends={ends1d} strip={strip1d} stripBand={[2.2415, 2.2393]} yTicks={yt1d} xTicks={xt1d} label="GBPNZD 1d" labelY={549} yFmt={fmtShort} />
      <Panel {...smallBase} rows={candles4h} yPair={[2.31, 2.28, 685.7, 806.5]} top={672.6} bottom={809.3} levels={levels4h} zones={zones4h} highs={highs4h} lows={lows4h} ends={ends4h} strip={strip4h} stripBand={[2.2811, 2.2806]} yTicks={yt4h} xTicks={xt4h} label="GBPNZD 4h" labelY={740.8} yFmt={fmtShort} />
      <Panel {...smallBase} rows={candles1h} yPair={[2.295, 2.285, 878.8, 960.5]} top={863.7} bottom={1000} levels={levels1h} zones={zones1h} highs={highs1h} lows={lows1h} ends={ends1h} yTicks={yt1h} xTicks={xt1h} label="GBPNZD 1h" labelY={932} yFmt={fmtShort} />

      <Panel main rows={candles15m} x0={541.4} dx={8.99} xRight={1521.6} yPair={[2.29, 2.282, 142, 385.7]} top={100} bottom={427.3} left={468} right={1581} levels={levels15m} zones={zones15m} highs={highs15m} lows={lows15m} ends={ends15m} strip={strip15m} stripBand={[2.28106, 2.28084]} yTicks={yt15m} xTicks={xt15m} label="GBPNZD 15m" labelX={1026} labelY={264} bodyW={4.5} bodyS={1.7} wickW={1.6} dotR={2.9} endR={3.4} yFmt={fmtShort} notes={notes15m} />
      <Panel main rows={candles5m} x0={541.4} dx={7.6} xRight={1521.6} yPair={[2.288, 2.28, 515.5, 973.9]} top={482} bottom={1000} left={468} right={1581} levels={levels5m} zones={zones5m} highs={highs5m} lows={lows5m} ends={ends5m} strip={strip5m} stripBand={[2.28113, 2.28094]} yTicks={yt5m} xTicks={xt5m} label="GBPNZD 5m" labelX={1027} labelY={741} bodyW={3.9} bodyS={1.6} wickW={1.5} dotR={2.6} endR={3.4} yFmt={fmtShort} notes={notes5m}>
        {(x, y) => (
          <g>
            {strip5mUpper.map((s, i) => <rect key={"u" + i} x={x(s[0])} width={x(s[1]) - x(s[0])} y={y(2.28118)} height={y(2.28103) - y(2.28118)} fill={stripColor[s[2]]} stroke="#fff" strokeOpacity={0.8} strokeWidth={0.6} />)}
            {strip5mLower.map((s, i) => <rect key={"d" + i} x={x(s[0])} width={x(s[1]) - x(s[0])} y={y(2.28102)} height={y(2.28094) - y(2.28102)} fill={stripColor[s[2]]} stroke="#fff" strokeOpacity={0.8} strokeWidth={0.6} />)}
            {position5m.map((z, i) => <rect key={"p" + i} x={x(z[0])} width={x(z[1]) - x(z[0])} y={y(z[2])} height={y(z[3]) - y(z[2])} fill={zoneStyle[z[4]].c} fillOpacity={zoneStyle[z[4]].o} stroke="#666" strokeOpacity={0.6} strokeWidth={1} />)}
            {overlay5m.map((l, i) => { const s = lineStyle[l[3]]; return <line key={"o" + i} x1={x(l[0])} x2={x(l[1])} y1={y(l[2])} y2={y(l[2])} stroke={s.c} strokeOpacity={s.o} strokeWidth={s.w} />; })}
          </g>
        )}
      </Panel>

      <g fontFamily={FONT} fontSize={9.45} fill={INK}>
        {report.map((r, i) => (
          r[0] === DASH
            ? <text key={i} x={r[1]} y={r[2] + 3.4} textLength={250} lengthAdjust="spacingAndGlyphs">{DASH.repeat(70)}</text>
            : <text key={i} x={r[1]} y={r[2] + 3.4} xmlSpace="preserve">{r[0]}</text>
        ))}
      </g>

      {frames.map((f, i) => (
        <g key={i} fill="none" strokeWidth={3}>
          <path d={`M${f[0]},${f[1]}H${f[2]}V${f[3]}`} stroke={f[4]} strokeOpacity={0.999} style={{ mixBlendMode: "multiply" }} />
          <path d={`M${f[0]},${f[1]}V${f[3]}H${f[2]}`} stroke={f[5]} />
        </g>
      ))}
    </svg>
  );
}
